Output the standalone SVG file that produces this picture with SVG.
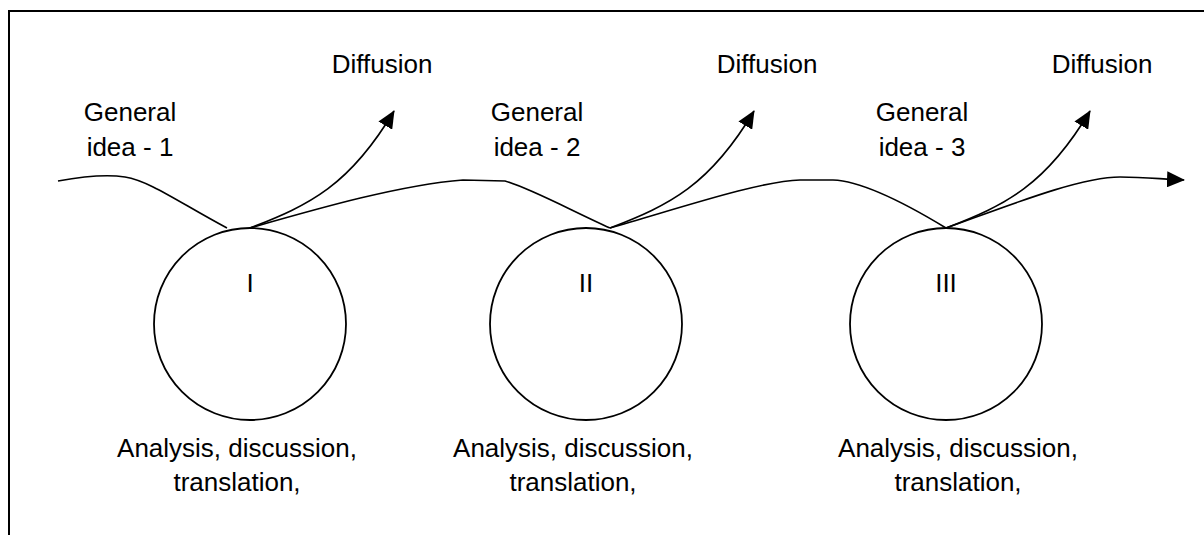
<svg xmlns="http://www.w3.org/2000/svg" width="1204" height="535" viewBox="0 0 1204 535">
<style>
text{font-family:"Liberation Sans",Arial,sans-serif;font-size:26px;fill:#000;text-anchor:middle}
.ln{fill:none;stroke:#000;stroke-width:1.6}
.node circle{fill:none;stroke:#000;stroke-width:1.8}
.frame{fill:none;stroke:#000;stroke-width:2}
</style>
<defs>
<marker id="ah" markerUnits="userSpaceOnUse" markerWidth="18" markerHeight="16" viewBox="0 0 18 16" refX="17" refY="8" orient="auto">
<path d="M0,0 L18,8 L0,16 Z" fill="#000"/>
</marker>
</defs>
<rect width="1204" height="535" fill="#fff"/>
<path class="frame" d="M1204,11 L9,11 L9,535"/>
<g id="connectors">
<path class="ln" d="M58,181 C80,177 105,174 125,177 C150,181 180,203 227,228"/>
<path class="ln" d="M250,228 C320,208 400,185 463,180 L505,181 C530,188 570,210 610,228"/>
<path class="ln" d="M610,228 C680,208 760,181 800,180 L833,180 C860,181 900,200 946,228"/>
<path class="ln" d="M946,228 C1010,205 1080,177 1120,177 C1145,177 1160,179 1184,180" marker-end="url(#ah)"/>
<path class="ln" d="M250,228 C310,205 350,185 394,111" marker-end="url(#ah)"/>
<path class="ln" d="M610,228 C670,205 710,185 754,111" marker-end="url(#ah)"/>
<path class="ln" d="M946,228 C1006,205 1046,185 1090,111" marker-end="url(#ah)"/>
</g>
<g id="node-1" class="node">
<circle cx="250" cy="324" r="96"/>
<text x="250" y="292">I</text>
<text x="237" y="457">Analysis, discussion,</text>
<text x="237" y="491">translation,</text>
</g>
<g id="node-2" class="node">
<circle cx="586" cy="324" r="96"/>
<text x="586" y="292">II</text>
<text x="573" y="457">Analysis, discussion,</text>
<text x="573" y="491">translation,</text>
</g>
<g id="node-3" class="node">
<circle cx="946" cy="324" r="96"/>
<text x="946" y="292">III</text>
<text x="958" y="457">Analysis, discussion,</text>
<text x="958" y="491">translation,</text>
</g>
<g id="label-idea-1">
<text x="130" y="121">General</text>
<text x="130" y="156">idea - 1</text>
</g>
<g id="label-idea-2">
<text x="537" y="121">General</text>
<text x="537" y="156">idea - 2</text>
</g>
<g id="label-idea-3">
<text x="922" y="121">General</text>
<text x="922" y="156">idea - 3</text>
</g>
<g id="label-diffusion-1"><text x="382" y="73">Diffusion</text></g>
<g id="label-diffusion-2"><text x="767" y="73">Diffusion</text></g>
<g id="label-diffusion-3"><text x="1102" y="73">Diffusion</text></g>
</svg>
